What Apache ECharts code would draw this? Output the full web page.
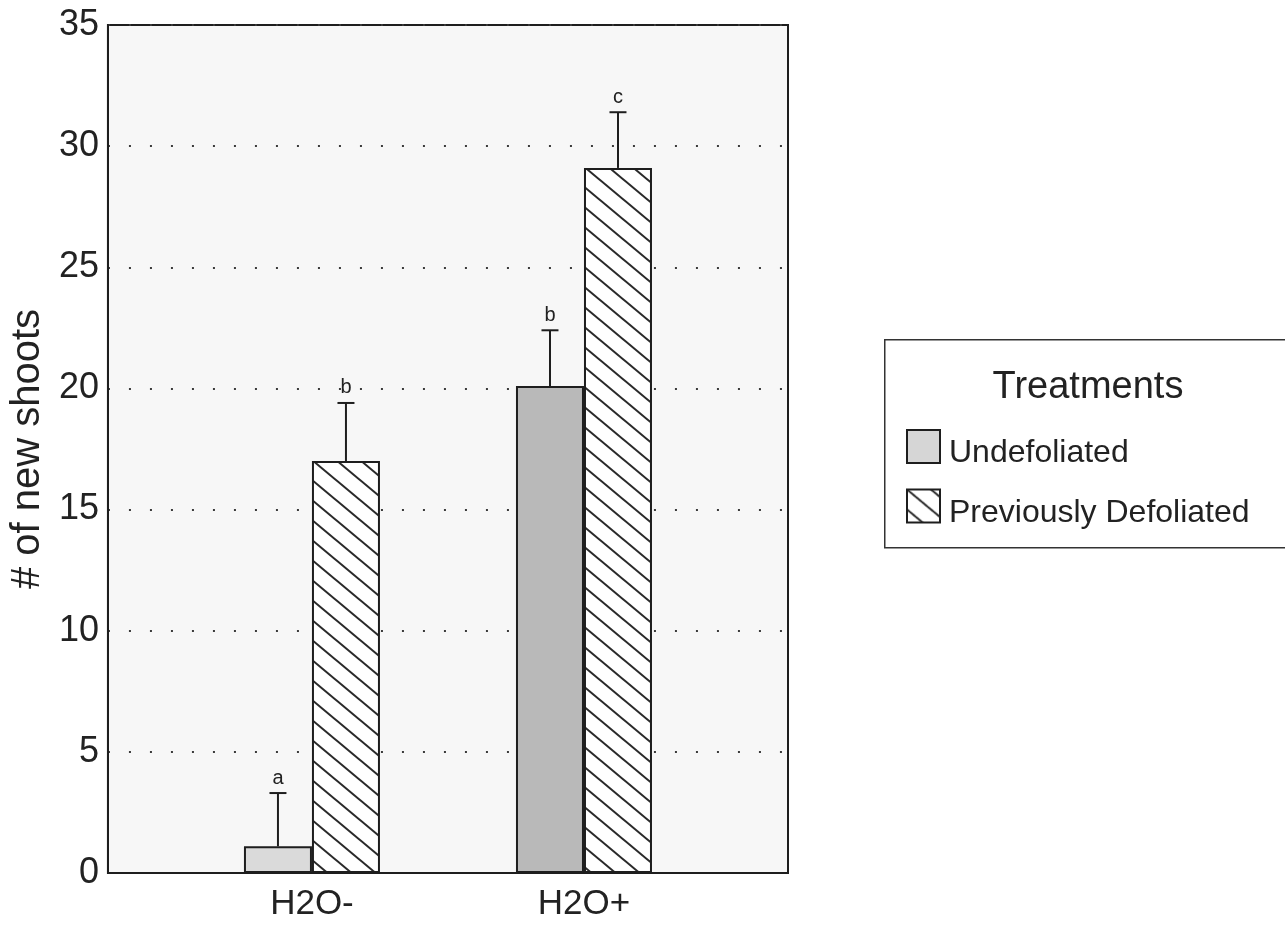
<!DOCTYPE html>
<html>
<head>
<meta charset="utf-8">
<script src="https://cdn.jsdelivr.net/npm/echarts@6/dist/echarts.min.js"></script>
<style>
  html, body { margin: 0; padding: 0; background: #fff; }
  #chart { width: 1285px; height: 925px; }
</style>
</head>
<body>
<div id="chart"></div>
<script>
// Watering treatment groups on the x axis
const categories = ['H2O-', 'H2O+'];
// Defoliation treatments (legend entries)
const treatments = ['Undefoliated', 'Previously Defoliated'];
// Mean number of new shoots and standard error per group
const undefoliatedMean = [1.1, 20.1];
const undefoliatedSE = [2.2, 2.3];
const defoliatedMean = [17.0, 29.1];
const defoliatedSE = [2.4, 2.3];
// Significance letters shown above the error bars
const undefoliatedLetters = ['a', 'b'];
const defoliatedLetters = ['b', 'c'];
// Y axis range and tick step
const yMin = 0, yMax = 35, yStep = 5;

const FONT = '"Liberation Sans", Arial, Helvetica, sans-serif';
const INK = '#1e1e1e';

// Each group sits in its own slot with empty slots around it
const slotLabels = [''];
categories.forEach(c => { slotLabels.push(c, ''); });
const slotOf = i => 2 * i + 1;

function slotSeries(values) {
  const out = slotLabels.map(() => null);
  values.forEach((v, i) => { out[slotOf(i)] = v; });
  return out;
}

// Diagonal hatch tile for the previously defoliated bars
function makeHatch() {
  const w = 24, h = 20;
  const c = document.createElement('canvas');
  c.width = w; c.height = h;
  const g = c.getContext('2d');
  g.fillStyle = '#ffffff';
  g.fillRect(0, 0, w, h);
  g.strokeStyle = '#2a2a2a';
  g.lineWidth = 2;
  [[-w, -h, 2 * w, 2 * h], [-w, 0, w, 2 * h], [0, -h, 2 * w, h]].forEach(s => {
    g.beginPath();
    g.moveTo(s[0], s[1]);
    g.lineTo(s[2], s[3]);
    g.stroke();
  });
  return c;
}
const hatch = { image: makeHatch(), repeat: 'repeat' };

const undefColors = ['#dadada', '#b9b9b9'];
const BAR_W = 68;

function undefData() {
  const out = slotSeries(undefoliatedMean);
  categories.forEach((c, i) => {
    out[slotOf(i)] = { value: undefoliatedMean[i], itemStyle: { color: undefColors[i] } };
  });
  return out;
}

function errorData(means, ses) {
  return means.map((m, i) => [slotOf(i), m, ses[i]]);
}

// Error bar with cap and significance letter, shifted onto its bar
function errorRenderer(offset, letters) {
  return function (params, api) {
    const x = api.value(0), m = api.value(1), se = api.value(2);
    const letter = letters[params.dataIndex];
    const base = api.coord([x, m]);
    const top = api.coord([x, m + se]);
    const cx = base[0] + offset;
    return {
      type: 'group',
      children: [
        { type: 'line', shape: { x1: cx, y1: base[1], x2: cx, y2: top[1] },
          style: { stroke: INK, lineWidth: 2 } },
        { type: 'line', shape: { x1: cx - 8.5, y1: top[1], x2: cx + 8.5, y2: top[1] },
          style: { stroke: INK, lineWidth: 2 } },
        { type: 'text', x: cx, y: top[1] - 5,
          style: { text: letter, align: 'center', verticalAlign: 'bottom',
                   font: '20px ' + FONT, fill: '#222' } }
      ]
    };
  };
}

const chart = echarts.init(document.getElementById('chart'), null, { renderer: 'canvas' });

chart.setOption({
  animation: false,
  backgroundColor: '#ffffff',
  grid: {
    left: 107, top: 25, right: 497, bottom: 52,
    show: true, backgroundColor: '#f7f7f7',
    borderColor: INK, borderWidth: 2
  },
  xAxis: {
    type: 'category',
    data: slotLabels,
    axisLine: { show: true, lineStyle: { color: INK, width: 2 } },
    axisTick: { show: false },
    axisLabel: { color: '#222', fontSize: 35, fontFamily: FONT, margin: 14, interval: 0 },
    splitLine: { show: false }
  },
  yAxis: {
    type: 'value',
    min: yMin, max: yMax, interval: yStep,
    name: '# of new shoots',
    nameLocation: 'middle',
    nameGap: 56,
    nameTextStyle: { color: '#222', fontSize: 40, fontFamily: FONT },
    axisLine: { show: true, lineStyle: { color: INK, width: 2 } },
    axisTick: { show: false },
    axisLabel: { color: '#222', fontSize: 36, fontFamily: FONT, margin: 9 },
    splitLine: { show: true, lineStyle: { color: '#3a3a3a', width: 2, type: [2, 19] } }
  },
  legend: {
    data: treatments,
    orient: 'vertical',
    left: 906, top: 429,
    icon: 'rect',
    itemWidth: 33, itemHeight: 33,
    itemGap: 19,
    padding: 0,
    formatter: '{t|{name}}',
    textStyle: {
      color: '#222', fontSize: 32, fontFamily: FONT,
      rich: { t: { color: '#222', fontSize: 32, fontFamily: FONT, padding: [14, 0, 0, 4] } }
    },
    selectedMode: false
  },
  graphic: [
    { type: 'rect', left: 884, top: 339, z: 0,
      shape: { width: 420, height: 208 },
      style: { fill: '#ffffff', stroke: '#333', lineWidth: 1.5 } },
    { type: 'text', x: 1088, y: 388, z: 1,
      style: { text: 'Treatments', align: 'center', verticalAlign: 'middle',
               font: '38px ' + FONT, fill: '#222' } }
  ],
  series: [
    {
      name: treatments[0], type: 'bar',
      data: undefData(),
      barWidth: BAR_W, barGap: '0%',
      itemStyle: { color: '#d6d6d6', borderColor: INK, borderWidth: 2 },
      z: 3
    },
    {
      name: treatments[1], type: 'bar',
      data: slotSeries(defoliatedMean),
      barWidth: BAR_W, barGap: '0%',
      itemStyle: { color: hatch, borderColor: INK, borderWidth: 2 },
      z: 3
    },
    {
      name: 'undefoliated-se', type: 'custom',
      renderItem: errorRenderer(-BAR_W / 2, undefoliatedLetters),
      data: errorData(undefoliatedMean, undefoliatedSE),
      z: 4, silent: true
    },
    {
      name: 'defoliated-se', type: 'custom',
      renderItem: errorRenderer(BAR_W / 2, defoliatedLetters),
      data: errorData(defoliatedMean, defoliatedSE),
      z: 4, silent: true
    }
  ]
});
</script>
</body>
</html>
